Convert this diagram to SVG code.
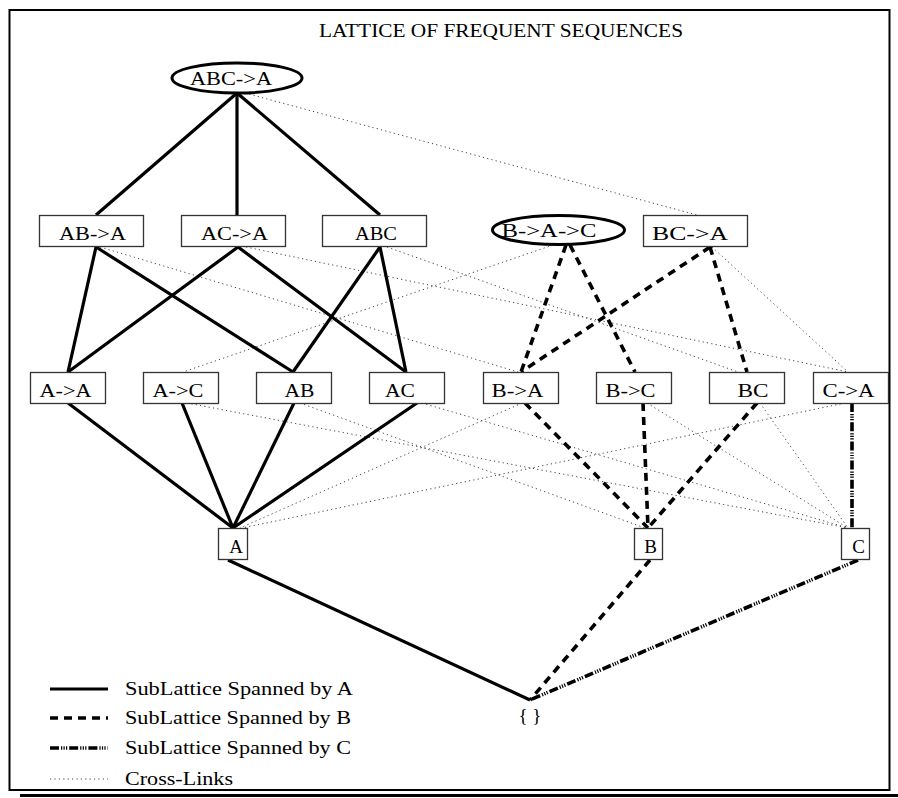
<svg xmlns="http://www.w3.org/2000/svg" width="898" height="798" viewBox="0 0 898 798">
<style>
text{font-family:"Liberation Serif","Times New Roman",serif;font-size:19px;fill:#000}
.lbl{text-anchor:middle}
.box{fill:#fff;stroke:#333;stroke-width:1.3}
.ell{fill:#fff;stroke:#000;stroke-width:3}
.a{stroke:#000;stroke-width:3.2;fill:none}
.b{stroke:#000;stroke-width:3.6;fill:none;stroke-dasharray:8 6}
.c{stroke:#000;stroke-width:3.6;fill:none;stroke-dasharray:9 2 1.2 1.3 1.2 1.3 1.2 2}
.x{stroke:#444;stroke-width:1;fill:none;stroke-dasharray:1.2 3.2}
</style>
<rect x="0" y="0" width="898" height="798" fill="#fff"/>
<rect x="9.5" y="10" width="880" height="780" fill="none" stroke="#000" stroke-width="2"/>
<line x1="20" y1="795.5" x2="898" y2="795.5" stroke="#000" stroke-width="3"/>
<text x="501" y="37" class="lbl" textLength="364" lengthAdjust="spacingAndGlyphs">LATTICE OF FREQUENT SEQUENCES</text>

<g id="connectors">
<!-- cross links -->
<line class="x" x1="245" y1="93" x2="697" y2="215"/>
<line class="x" x1="100" y1="247" x2="518" y2="372"/>
<line class="x" x1="246" y1="247" x2="848" y2="372"/>
<line class="x" x1="387" y1="247" x2="738" y2="372"/>
<line class="x" x1="553" y1="245" x2="183" y2="372"/>
<line class="x" x1="712" y1="247" x2="848" y2="372"/>
<line class="x" x1="187" y1="403" x2="848" y2="528"/>
<line class="x" x1="300" y1="403" x2="645" y2="528"/>
<line class="x" x1="422" y1="403" x2="848" y2="528"/>
<line class="x" x1="522" y1="403" x2="240" y2="528"/>
<line class="x" x1="647" y1="403" x2="848" y2="528"/>
<line class="x" x1="760" y1="403" x2="848" y2="528"/>
<line class="x" x1="845" y1="403" x2="242" y2="528"/>
<!-- sublattice A -->
<line class="a" x1="237" y1="93" x2="96" y2="215"/>
<line class="a" x1="237" y1="93" x2="237" y2="215"/>
<line class="a" x1="237" y1="93" x2="380" y2="215"/>
<line class="a" x1="96" y1="247" x2="68" y2="372"/>
<line class="a" x1="96" y1="247" x2="293" y2="372"/>
<line class="a" x1="238" y1="247" x2="68" y2="372"/>
<line class="a" x1="238" y1="247" x2="406" y2="372"/>
<line class="a" x1="380" y1="247" x2="293" y2="372"/>
<line class="a" x1="380" y1="247" x2="406" y2="372"/>
<line class="a" x1="68" y1="403" x2="233" y2="528"/>
<line class="a" x1="182" y1="403" x2="233" y2="528"/>
<line class="a" x1="294" y1="403" x2="233" y2="528"/>
<line class="a" x1="417" y1="403" x2="233" y2="528"/>
<line class="a" x1="228" y1="560" x2="530" y2="700"/>
<!-- sublattice B -->
<line class="b" x1="566" y1="245" x2="521" y2="372"/>
<line class="b" x1="570" y1="245" x2="635" y2="372"/>
<line class="b" x1="710" y1="247" x2="521" y2="372"/>
<line class="b" x1="710" y1="247" x2="747" y2="372"/>
<line class="b" x1="525" y1="403" x2="648" y2="528"/>
<line class="b" x1="643" y1="403" x2="648" y2="528"/>
<line class="b" x1="757" y1="403" x2="648" y2="528"/>
<line class="b" x1="650" y1="560" x2="530" y2="700"/>
<!-- sublattice C -->
<line class="c" x1="852" y1="403" x2="852" y2="528"/>
<line class="c" x1="858" y1="560" x2="530" y2="700"/>
</g>

<g id="n-ABC-A"><ellipse class="ell" cx="237" cy="78" rx="65" ry="15"/><text x="231" y="85" class="lbl" textLength="82" lengthAdjust="spacingAndGlyphs">ABC-&gt;A</text></g>
<g id="n-AB-A"><rect class="box" x="39.5" y="215.5" width="104" height="31"/><text x="92.5" y="239.5" class="lbl" textLength="67" lengthAdjust="spacingAndGlyphs">AB-&gt;A</text></g>
<g id="n-AC-A"><rect class="box" x="181.5" y="215.5" width="104" height="31"/><text x="234.5" y="239.5" class="lbl" textLength="67" lengthAdjust="spacingAndGlyphs">AC-&gt;A</text></g>
<g id="n-ABC"><rect class="box" x="322.5" y="215.5" width="104" height="31"/><text x="376" y="239.5" class="lbl" textLength="42" lengthAdjust="spacingAndGlyphs">ABC</text></g>
<g id="n-B-A-C"><ellipse class="ell" cx="558.5" cy="230" rx="66" ry="14.5"/><text x="549" y="237" class="lbl" textLength="95" lengthAdjust="spacingAndGlyphs">B-&gt;A-&gt;C</text></g>
<g id="n-BC-A"><rect class="box" x="643.5" y="215.5" width="104" height="31"/><text x="690" y="239.5" class="lbl" textLength="76" lengthAdjust="spacingAndGlyphs">BC-&gt;A</text></g>

<g id="n-A-A"><rect class="box" x="30.5" y="372.5" width="75" height="31"/><text x="65.5" y="396.5" class="lbl" textLength="52" lengthAdjust="spacingAndGlyphs">A-&gt;A</text></g>
<g id="n-A-C"><rect class="box" x="143.5" y="372.5" width="75" height="31"/><text x="178" y="396.5" class="lbl" textLength="51" lengthAdjust="spacingAndGlyphs">A-&gt;C</text></g>
<g id="n-AB"><rect class="box" x="256.5" y="372.5" width="75" height="31"/><text x="299.5" y="396.5" class="lbl" textLength="30" lengthAdjust="spacingAndGlyphs">AB</text></g>
<g id="n-AC"><rect class="box" x="369.5" y="372.5" width="75" height="31"/><text x="400" y="396.5" class="lbl" textLength="30" lengthAdjust="spacingAndGlyphs">AC</text></g>
<g id="n-B-A"><rect class="box" x="483.5" y="372.5" width="75" height="31"/><text x="517.5" y="396.5" class="lbl" textLength="52" lengthAdjust="spacingAndGlyphs">B-&gt;A</text></g>
<g id="n-B-C"><rect class="box" x="596.5" y="372.5" width="75" height="31"/><text x="630.5" y="396.5" class="lbl" textLength="50" lengthAdjust="spacingAndGlyphs">B-&gt;C</text></g>
<g id="n-BC"><rect class="box" x="709.5" y="372.5" width="75" height="31"/><text x="753" y="396.5" class="lbl" textLength="31" lengthAdjust="spacingAndGlyphs">BC</text></g>
<g id="n-C-A"><rect class="box" x="813.5" y="372.5" width="75" height="31"/><text x="848.5" y="396.5" class="lbl" textLength="52" lengthAdjust="spacingAndGlyphs">C-&gt;A</text></g>

<g id="n-A"><rect class="box" x="218.5" y="528.5" width="29" height="31"/><text x="236" y="552.5" class="lbl">A</text></g>
<g id="n-B"><rect class="box" x="634.5" y="528.5" width="28" height="31"/><text x="650.5" y="552.5" class="lbl">B</text></g>
<g id="n-C"><rect class="box" x="841.5" y="528.5" width="28" height="31"/><text x="858.5" y="552.5" class="lbl">C</text></g>
<g id="n-empty"><text x="530" y="722" class="lbl">{ }</text></g>

<g id="legend">
<line class="a" x1="50" y1="689" x2="108" y2="689"/>
<line class="b" x1="50" y1="718" x2="108" y2="718"/>
<line class="c" x1="50" y1="748" x2="108" y2="748"/>
<line class="x" x1="50" y1="779" x2="108" y2="779"/>
<text x="125" y="695" textLength="228" lengthAdjust="spacingAndGlyphs">SubLattice Spanned by A</text>
<text x="125" y="724" textLength="226" lengthAdjust="spacingAndGlyphs">SubLattice Spanned by B</text>
<text x="125" y="754" textLength="226" lengthAdjust="spacingAndGlyphs">SubLattice Spanned by C</text>
<text x="125" y="785" textLength="108" lengthAdjust="spacingAndGlyphs">Cross-Links</text>
</g>
</svg>
